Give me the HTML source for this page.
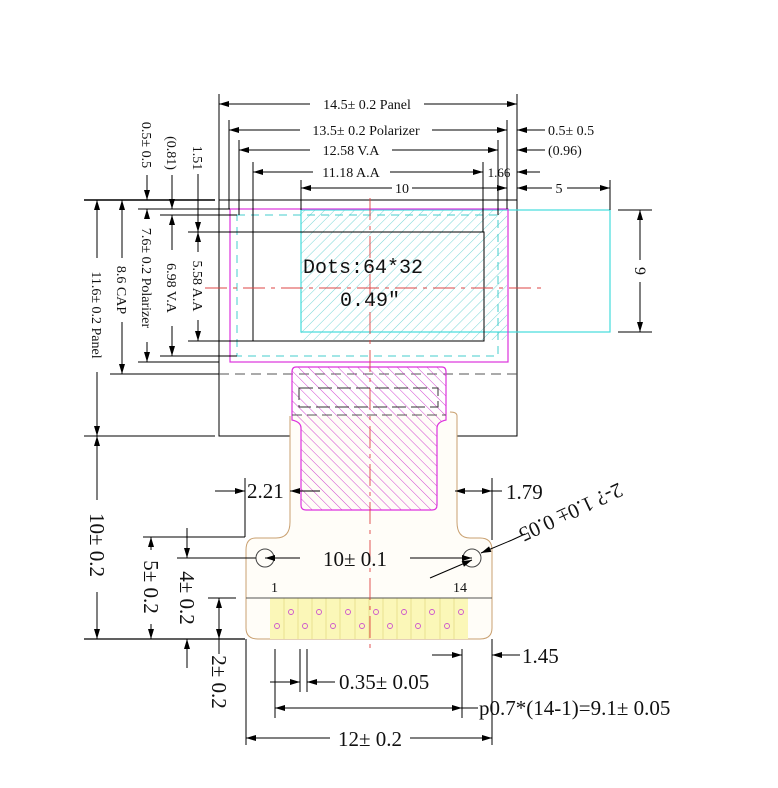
<!DOCTYPE html>
<html><head><meta charset="utf-8"><style>
html,body{margin:0;padding:0;background:#fff;}
svg{display:block;}
text{font-family:"Liberation Serif",serif;fill:#111;}
</style></head><body>
<svg width="778" height="788" viewBox="0 0 778 788" xmlns="http://www.w3.org/2000/svg">
<defs>
<marker id="a" viewBox="0 0 10 6" refX="10" refY="3" markerWidth="11" markerHeight="6" markerUnits="userSpaceOnUse" orient="auto-start-reverse"><path d="M0,0L10,3L0,6z" fill="#000"/></marker>
<pattern id="hc" width="7" height="7" patternUnits="userSpaceOnUse" patternTransform="rotate(45)"><line x1="0" y1="0" x2="0" y2="7" stroke="#5cc" stroke-width="0.8"/></pattern>
<pattern id="hm" width="7" height="7" patternUnits="userSpaceOnUse" patternTransform="rotate(-45)"><line x1="0" y1="0" x2="0" y2="7" stroke="#c3c" stroke-width="0.9"/></pattern>
</defs>
<g stroke="#000" stroke-width="1" fill="none">
<rect x="219" y="200" width="298" height="236"/>
<line x1="219" y1="374" x2="517" y2="374" stroke="#555" stroke-dasharray="10,6"/>
</g>
<rect x="301" y="210" width="309" height="122" fill="none" stroke="#4dd" stroke-width="1.2"/>
<rect x="301" y="210" width="206" height="130" fill="url(#hc)"/>
<rect x="237" y="215" width="261" height="141" fill="none" stroke="#4cc" stroke-dasharray="8,6"/>
<rect x="230" y="209" width="278" height="153" fill="none" stroke="#d3d" stroke-width="1.2"/>
<rect x="253" y="232" width="231" height="109" fill="none" stroke="#000"/>
<path d="M290,416 L290,522 Q290,538 276,538 L256,538 Q246,538 246,550 L246,628 Q246,639 258,639 L480,639 Q492,639 492,628 L492,550 Q492,538 480,538 L470,538 Q457,538 457,522 L457,416 Q457,412 450,412" fill="#fffdf8" stroke="#c9a070" stroke-width="1"/>
<path d="M296,367 L442,367 Q446,367 446,372 L446,420 Q437,422 437,428 L437,505 Q437,510 432,510 L306,510 Q301,510 301,505 L301,428 Q301,422 292,420 L292,372 Q292,367 296,367z" fill="url(#hm)" stroke="#d3d" stroke-width="1.2"/>
<rect x="299" y="388" width="139" height="19" fill="none" stroke="#333" stroke-dasharray="14,5"/>
<line x1="292" y1="415" x2="446" y2="415" stroke="#555" stroke-dasharray="10,5"/>
<rect x="270" y="598" width="198" height="41" fill="#fbf7b8"/>
<g stroke="#e8e090" stroke-width="1">
<line x1="284" y1="598" x2="284" y2="639"/><line x1="298" y1="598" x2="298" y2="639"/><line x1="312" y1="598" x2="312" y2="639"/><line x1="326" y1="598" x2="326" y2="639"/><line x1="340" y1="598" x2="340" y2="639"/><line x1="355" y1="598" x2="355" y2="639"/><line x1="369" y1="598" x2="369" y2="639"/><line x1="383" y1="598" x2="383" y2="639"/><line x1="397" y1="598" x2="397" y2="639"/><line x1="411" y1="598" x2="411" y2="639"/><line x1="425" y1="598" x2="425" y2="639"/><line x1="440" y1="598" x2="440" y2="639"/><line x1="454" y1="598" x2="454" y2="639"/>
</g>
<line x1="246" y1="598" x2="492" y2="598" stroke="#555"/>
<g fill="none" stroke="#c5c" stroke-width="0.9">
<circle cx="277" cy="626" r="2.5"/><circle cx="291" cy="612" r="2.5"/><circle cx="305" cy="626" r="2.5"/><circle cx="319" cy="612" r="2.5"/><circle cx="333" cy="626" r="2.5"/><circle cx="348" cy="612" r="2.5"/><circle cx="362" cy="626" r="2.5"/><circle cx="376" cy="612" r="2.5"/><circle cx="390" cy="626" r="2.5"/><circle cx="404" cy="612" r="2.5"/><circle cx="418" cy="626" r="2.5"/><circle cx="432" cy="612" r="2.5"/><circle cx="447" cy="626" r="2.5"/><circle cx="461" cy="612" r="2.5"/>
</g>
<g fill="none" stroke="#444" stroke-width="1">
<circle cx="265" cy="558" r="9"/><circle cx="472" cy="558" r="9"/>
</g>
<text x="271" y="592" font-size="14">1</text>
<text x="453" y="592" font-size="14">14</text>
<g stroke="#d44" stroke-width="0.9" stroke-dasharray="22,6,4,6">
<line x1="205" y1="288" x2="545" y2="288"/>
<line x1="370" y1="198" x2="370" y2="650"/>
</g>
<text x="303" y="273" font-size="20" style="font-family:'Liberation Mono',monospace">Dots:64*32</text>
<text x="340" y="306" font-size="20" style="font-family:'Liberation Mono',monospace">0.49″</text>

<g stroke="#000" stroke-width="1" fill="none">
<line x1="219" y1="94" x2="219" y2="200"/><line x1="517" y1="94" x2="517" y2="200"/>
<line x1="229" y1="120" x2="229" y2="209"/><line x1="507" y1="120" x2="507" y2="209"/>
<line x1="239" y1="140" x2="239" y2="215"/><line x1="498" y1="140" x2="498" y2="215"/>
<line x1="253" y1="162" x2="253" y2="232"/><line x1="483" y1="162" x2="483" y2="232"/>
<line x1="301" y1="180" x2="301" y2="210"/><line x1="610" y1="180" x2="610" y2="210"/>
<line x1="219" y1="104" x2="310" y2="104" marker-start="url(#a)"/><line x1="424" y1="104" x2="517" y2="104" marker-end="url(#a)"/>
<line x1="229" y1="130" x2="300" y2="130" marker-start="url(#a)"/><line x1="432" y1="130" x2="507" y2="130" marker-end="url(#a)"/>
<line x1="517" y1="130" x2="545" y2="130" marker-start="url(#a)"/>
<line x1="239" y1="150" x2="310" y2="150" marker-start="url(#a)"/><line x1="392" y1="150" x2="498" y2="150" marker-end="url(#a)"/>
<line x1="517" y1="150" x2="545" y2="150" marker-start="url(#a)"/>
<line x1="253" y1="172" x2="313" y2="172" marker-start="url(#a)"/><line x1="390" y1="172" x2="483" y2="172" marker-end="url(#a)"/>
<line x1="517" y1="172" x2="540" y2="172" marker-start="url(#a)"/>
<line x1="301" y1="188" x2="392" y2="188" marker-start="url(#a)"/><line x1="412" y1="188" x2="507" y2="188" marker-end="url(#a)"/>
<line x1="517" y1="188" x2="552" y2="188" marker-start="url(#a)"/><line x1="567" y1="188" x2="610" y2="188" marker-end="url(#a)"/>
<line x1="618" y1="210" x2="652" y2="210"/><line x1="618" y1="332" x2="652" y2="332"/>
<line x1="640" y1="210" x2="640" y2="260" marker-start="url(#a)"/><line x1="640" y1="282" x2="640" y2="332" marker-end="url(#a)"/>
<line x1="84" y1="200" x2="215" y2="200" stroke-width="1.5"/>
<line x1="138" y1="209" x2="230" y2="209"/>
<line x1="160" y1="215" x2="237" y2="215"/>
<line x1="188" y1="232" x2="253" y2="232"/>
<line x1="188" y1="341" x2="253" y2="341"/>
<line x1="160" y1="356" x2="237" y2="356"/>
<line x1="138" y1="362" x2="219" y2="362"/>
<line x1="110" y1="374" x2="219" y2="374"/>
<line x1="84" y1="436" x2="215" y2="436"/>
<line x1="84" y1="639" x2="245" y2="639" stroke-width="1.3"/>
<line x1="143" y1="537" x2="245" y2="537"/>
<line x1="177" y1="558" x2="256" y2="558"/>
<line x1="208" y1="598" x2="236" y2="598"/>
<line x1="245" y1="478" x2="245" y2="537"/>
<line x1="97" y1="200" x2="97" y2="258" marker-start="url(#a)"/><line x1="97" y1="372" x2="97" y2="436" marker-end="url(#a)"/>
<line x1="122" y1="200" x2="122" y2="258" marker-start="url(#a)"/><line x1="122" y1="322" x2="122" y2="374" marker-end="url(#a)"/>
<line x1="147" y1="175" x2="147" y2="200" marker-end="url(#a)"/><line x1="147" y1="209" x2="147" y2="214" marker-start="url(#a)"/><line x1="147" y1="342" x2="147" y2="362" marker-end="url(#a)"/>
<line x1="172" y1="175" x2="172" y2="209" marker-end="url(#a)"/><line x1="172" y1="215" x2="172" y2="250" marker-start="url(#a)"/><line x1="172" y1="326" x2="172" y2="356" marker-end="url(#a)"/>
<line x1="198" y1="174" x2="198" y2="232" marker-end="url(#a)"/><line x1="198" y1="232" x2="198" y2="252" marker-start="url(#a)"/><line x1="198" y1="320" x2="198" y2="341" marker-end="url(#a)"/>
<line x1="97" y1="436" x2="97" y2="500" marker-start="url(#a)"/><line x1="97" y1="592" x2="97" y2="639" marker-end="url(#a)"/>
<line x1="151" y1="537" x2="151" y2="550" marker-start="url(#a)"/><line x1="151" y1="624" x2="151" y2="639" marker-end="url(#a)"/>
<line x1="187" y1="528" x2="187" y2="558" marker-end="url(#a)"/><line x1="187" y1="639" x2="187" y2="668" marker-start="url(#a)"/>
<line x1="219" y1="598" x2="219" y2="639" marker-start="url(#a)" marker-end="url(#a)"/><line x1="219" y1="639" x2="219" y2="654"/>
<line x1="215" y1="491" x2="245" y2="491" marker-end="url(#a)"/>
<line x1="320" y1="491" x2="290" y2="491" marker-end="url(#a)"/>
<line x1="492" y1="478" x2="492" y2="540"/>
<line x1="455" y1="491" x2="473" y2="491" marker-start="url(#a)"/><line x1="473" y1="491" x2="492" y2="491" marker-end="url(#a)"/><line x1="492" y1="491" x2="502" y2="491"/>
<line x1="300" y1="558" x2="265" y2="558" marker-end="url(#a)"/><line x1="410" y1="558" x2="472" y2="558" marker-end="url(#a)"/>
<line x1="430" y1="578" x2="472" y2="560" marker-end="url(#a)"/><line x1="512" y1="540" x2="481" y2="553" marker-end="url(#a)"/><line x1="512" y1="540" x2="525" y2="534"/>
<line x1="246" y1="639" x2="246" y2="745"/><line x1="492" y1="639" x2="492" y2="745"/>
<line x1="275" y1="649" x2="275" y2="718"/><line x1="300" y1="649" x2="300" y2="692"/><line x1="307" y1="649" x2="307" y2="692"/><line x1="462" y1="649" x2="462" y2="718"/>
<line x1="432" y1="655" x2="462" y2="655" marker-end="url(#a)"/><line x1="520" y1="655" x2="492" y2="655" marker-end="url(#a)"/>
<line x1="270" y1="682" x2="300" y2="682" marker-end="url(#a)"/><line x1="335" y1="682" x2="307" y2="682" marker-end="url(#a)"/>
<line x1="275" y1="708" x2="462" y2="708" marker-start="url(#a)" marker-end="url(#a)"/><line x1="462" y1="708" x2="478" y2="708"/>
<line x1="246" y1="738" x2="330" y2="738" marker-start="url(#a)"/><line x1="410" y1="738" x2="492" y2="738" marker-end="url(#a)"/>
</g>

<g font-size="14">
<text x="367" y="109" text-anchor="middle">14.5± 0.2 Panel</text>
<text x="366" y="135" text-anchor="middle">13.5± 0.2 Polarizer</text>
<text x="351" y="155" text-anchor="middle">12.58 V.A</text>
<text x="351" y="177" text-anchor="middle">11.18 A.A</text>
<text x="402" y="193" text-anchor="middle">10</text>
<text x="559" y="193" text-anchor="middle">5</text>
<text x="499" y="177" text-anchor="middle" font-size="13">1.66</text>
<text x="548" y="135">0.5± 0.5</text>
<text x="548" y="155">(0.96)</text>
<text transform="translate(635,271) rotate(90)" text-anchor="middle" font-size="16">9</text>
<text transform="translate(92,315) rotate(90)" text-anchor="middle">11.6± 0.2 Panel</text>
<text transform="translate(117,290) rotate(90)" text-anchor="middle">8.6 CAP</text>
<text transform="translate(142,278) rotate(90)" text-anchor="middle">7.6± 0.2 Polarizer</text>
<text transform="translate(167,288) rotate(90)" text-anchor="middle">6.98 V.A</text>
<text transform="translate(193,286) rotate(90)" text-anchor="middle">5.58 A.A</text>
<text transform="translate(142,145) rotate(90)" text-anchor="middle">0.5± 0.5</text>
<text transform="translate(167,153) rotate(90)" text-anchor="middle">(0.81)</text>
<text transform="translate(193,158) rotate(90)" text-anchor="middle">1.51</text>
</g>
<g font-size="21">
<text x="247" y="498">2.21</text>
<text x="506" y="499">1.79</text>
<text x="355" y="566" text-anchor="middle">10± 0.1</text>
<text transform="translate(568,506) rotate(155)" text-anchor="middle">2-? 1.0± 0.05</text>
<text x="522" y="663">1.45</text>
<text x="339" y="689">0.35± 0.05</text>
<text x="479" y="715">p0.7*(14-1)=9.1± 0.05</text>
<text x="370" y="746" text-anchor="middle">12± 0.2</text>
<text transform="translate(90,545) rotate(90)" text-anchor="middle">10± 0.2</text>
<text transform="translate(144,587) rotate(90)" text-anchor="middle">5± 0.2</text>
<text transform="translate(180,598) rotate(90)" text-anchor="middle">4± 0.2</text>
<text transform="translate(212,682) rotate(90)" text-anchor="middle">2± 0.2</text>
</g>
</svg>
</body></html>
